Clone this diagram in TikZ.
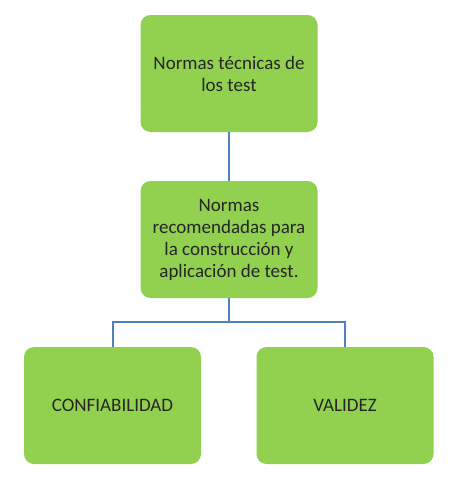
\documentclass[tikz,border=0pt]{standalone}
\usepackage{fontspec}
\setmainfont{Carlito}
\definecolor{boxgreen}{HTML}{92D050}
\definecolor{linkblue}{HTML}{4F81BD}
\begin{document}
\begin{tikzpicture}[x=1pt,y=-1pt,
  box/.style={fill=boxgreen, rounded corners=10pt, minimum width=177pt, minimum height=117pt, align=center, inner sep=0pt, font=\fontsize{19}{22}\selectfont, text=black!85},
  link/.style={draw=linkblue, line width=2pt}]
\useasboundingbox (0,0) rectangle (455,479);
\node[box] (top) at (229,73.5) {Normas técnicas de\\los test};
\node[box] (mid) at (229,239.5) {Normas\\recomendadas para\\la construcción y\\aplicación de test.};
\node[box] (left) at (112.5,405.5) {CONFIABILIDAD};
\node[box] (right) at (345,405.5) {VALIDEZ};
\draw[link] (top.south) -- (mid.north);
\coordinate (j) at (229,322);
\draw[link] (mid.south) -- (j);
\draw[link] (left.north) |- (j) -| (right.north);
\end{tikzpicture}
\end{document}
